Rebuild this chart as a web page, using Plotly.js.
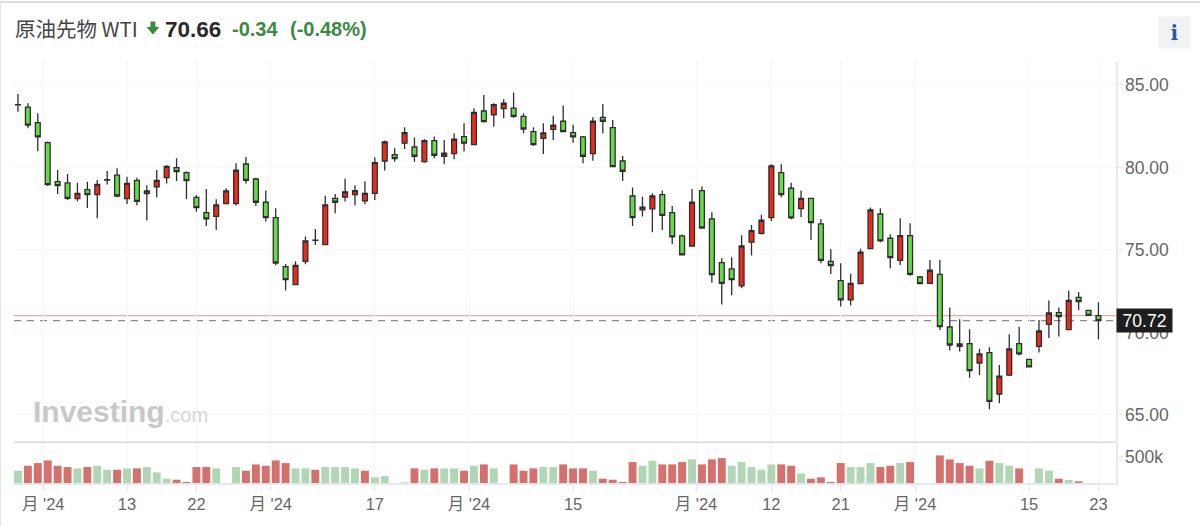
<!DOCTYPE html>
<html><head><meta charset="utf-8">
<script src="https://cdn.plot.ly/plotly-3.0.1.min.js"></script>
<style>
html,body{margin:0;padding:0;background:#fff;overflow:hidden}
#chart{position:absolute;left:0;top:0;width:1200px;height:526px}
#frame{position:absolute;left:0;top:1px;width:1199px;height:524px;border-top:2px solid #dcdcdc;border-left:1px solid #e4e4e4;pointer-events:none}
</style></head><body>
<div id="chart"></div><div id="frame"></div>
<script>
const opens=[83.81,83.65,82.72,81.50,79.14,79.06,78.11,78.66,78.35,79.26,79.53,78.11,79.22,78.41,78.82,79.38,79.99,79.69,78.19,77.26,77.04,77.81,77.81,80.21,79.30,77.89,76.96,73.99,72.90,74.31,75.58,75.32,78.13,78.21,78.35,77.97,78.43,80.39,80.78,81.47,81.24,80.35,81.63,80.68,80.84,81.87,81.38,83.42,83.18,83.57,83.59,83.10,82.17,81.77,82.31,82.80,82.11,81.85,80.84,83.04,82.41,80.39,78.27,77.43,77.49,78.35,77.26,75.85,75.24,78.60,76.88,74.23,73.85,72.82,75.47,76.01,76.96,79.69,78.74,77.50,78.13,76.58,74.31,73.14,71.97,72.96,75.08,77.18,75.71,74.37,75.87,73.36,72.98,73.52,70.33,69.30,69.32,68.15,68.78,66.27,67.42,69.32,68.37,69.16,70.49,71.20,70.17,72.13,71.34,71.02];
const closes=[83.79,82.56,81.85,78.96,78.90,78.13,78.43,78.35,78.98,79.24,78.27,79.04,77.95,78.58,79.22,80.07,79.75,79.20,77.56,76.88,77.73,78.58,79.83,79.22,77.89,76.96,74.21,73.20,74.07,75.55,75.60,77.73,77.89,78.52,78.60,78.43,80.29,81.55,80.54,82.11,80.68,81.63,80.74,80.86,81.71,81.47,83.34,82.78,83.81,83.89,83.10,82.33,81.38,82.09,82.56,82.17,81.85,80.68,82.80,82.80,80.05,79.77,76.96,77.59,78.27,77.10,75.79,74.70,77.89,76.33,73.50,72.98,73.20,75.24,76.17,76.80,80.09,78.35,76.94,78.13,76.66,74.37,74.05,71.97,72.98,74.86,77.42,75.55,74.53,75.87,73.52,72.96,73.77,70.35,69.24,69.16,67.69,68.70,65.83,67.36,69.00,68.70,67.91,70.09,71.18,70.96,71.95,71.87,71.04,70.72];
const highs=[84.45,83.89,83.28,81.57,79.85,79.60,79.08,79.14,79.24,79.79,79.95,79.44,79.38,78.92,79.85,80.15,80.55,79.75,78.33,78.70,78.07,78.74,80.25,80.64,79.38,78.60,77.53,74.15,74.31,75.81,76.27,78.29,78.39,79.32,78.92,79.16,80.62,81.63,81.16,82.43,81.81,81.71,81.87,81.67,82.05,82.68,83.59,84.39,83.89,84.13,84.54,83.28,82.43,82.68,83.14,83.75,82.58,81.91,83.04,83.85,82.88,80.70,78.78,78.23,78.43,78.60,77.67,75.93,78.70,78.84,77.28,74.49,74.56,75.89,76.51,77.14,80.19,80.19,79.08,78.60,78.13,76.88,75.04,74.19,73.54,75.08,77.58,77.52,75.95,76.92,76.62,73.42,74.39,74.39,71.52,70.80,70.19,69.02,69.10,68.03,69.89,70.35,68.41,70.76,71.93,71.52,72.53,72.45,71.36,71.83];
const lows=[83.38,82.37,80.98,78.88,78.39,78.03,77.93,77.55,76.92,78.96,78.19,77.79,77.71,76.78,78.20,79.02,79.18,78.09,77.32,76.45,76.21,77.79,77.70,79.02,77.67,76.72,74.07,72.55,72.88,74.13,75.30,75.30,77.22,77.93,77.71,77.79,78.03,79.81,80.35,81.12,80.35,80.29,80.56,80.19,80.50,80.96,81.36,82.72,82.47,82.98,83.00,82.07,81.30,80.82,81.67,82.15,81.50,80.25,80.41,82.07,80.05,79.18,76.45,77.02,76.07,76.21,75.36,74.68,75.20,76.31,73.02,71.69,72.25,72.68,74.66,75.93,76.76,78.19,76.86,77.00,75.61,74.19,73.55,71.57,71.63,72.92,75.04,75.46,73.89,74.09,73.44,72.94,72.94,70.15,68.90,68.84,67.26,67.42,65.34,65.71,67.36,68.60,67.89,68.78,69.67,69.75,70.15,71.36,71.00,69.59];
const volumes=[231,325,375,425,325,300,275,300,325,250,250,275,275,300,200,81,62,19,300,300,275,null,300,231,350,325,425,375,275,275,250,300,300,300,275,231,106,131,null,12,275,250,275,275,275,231,325,350,275,null,350,231,275,300,300,350,275,275,231,81,62,19,394,325,419,350,350,394,444,350,444,469,325,394,300,250,350,350,325,181,81,106,19,375,300,300,375,300,325,375,394,null,null,519,444,375,325,275,419,375,325,275,null,275,231,81,56,31,null,null];
const volumeRed=[0,1,1,1,1,1,0,1,0,0,1,0,1,0,0,0,1,1,1,1,0,0,0,1,1,1,1,1,0,0,1,0,0,0,0,1,0,0,0,0,1,0,1,0,0,1,0,1,0,0,1,1,1,0,0,1,1,1,0,1,1,1,1,0,0,1,1,1,0,1,1,1,0,0,0,0,0,1,1,0,1,1,1,1,0,0,0,1,1,0,1,0,0,1,1,1,1,0,1,0,0,1,0,0,0,1,0,1,0,0];
const xTickValues=[2.55,11,18,25.5,36,45.5,56,68.4,76,83,90.5,102,109];
const xTickLabels=["月 '24","13","22","月 '24","17","月 '24","15","月 '24","12","21","月 '24","15","23"];
const priceTicks=[65,70,75,80,85];
const priceTickLabels=["65.00","70.00","75.00","80.00","85.00"];
const lastPrice=70.72, prevClose=71.02;
const titleName="原油先物 WTI", quote="70.66", change="-0.34", changePct="(-0.48%)";

const days=opens.map((_,i)=>i);
const L=14,R=1116.5,T=62,B=483.5;
const px=x=>(x-L)/(R-L), py=y=>(B-y)/(B-T);
const sans='"Liberation Sans", Arial, sans-serif';
const note=(x,y,text,size,color,extra)=>Object.assign({xref:'paper',yref:'paper',x:px(x),y:py(y),text,showarrow:false,xanchor:'left',yanchor:'middle',font:{family:sans,size,color},borderpad:0},extra||{});
const arrowIcon=[[150.5,21.5],[155.5,21.5],[155.5,27],[159.5,27],[153,34.5],[146.5,27],[150.5,27]].map((p,i)=>(i?'L':'M')+px(p[0])+','+py(p[1])).join(' ')+' Z';

const candle={type:'candlestick',x:days,open:opens,high:highs,low:lows,close:closes,xaxis:'x',yaxis:'y',width:0.56,whiskerwidth:0,hoverinfo:'skip',
 increasing:{line:{color:'#2e2e2e',width:1.3},fillcolor:'#ec2a1c'},
 decreasing:{line:{color:'#2e2e2e',width:1.3},fillcolor:'#63dc47'}};
const vol={type:'bar',x:days,y:volumes,xaxis:'x',yaxis:'y2',width:0.8,hoverinfo:'skip',
 marker:{color:volumeRed.map(r=>r?'#d4716c':'#b0d6b6'),line:{width:0}}};

const layout={width:1200,height:526,showlegend:false,paper_bgcolor:'#fff',plot_bgcolor:'#fff',
 margin:{l:L,r:1200-R,t:T,b:526-B,pad:0},dragmode:false,
 xaxis:{type:'linear',domain:[0,1],range:[-0.4,110.77],anchor:'y2',tickmode:'array',tickvals:xTickValues,ticktext:xTickLabels,
  showgrid:true,gridcolor:'#f6f7f9',gridwidth:1,zeroline:false,ticks:'outside',ticklen:6,tickcolor:'#e6e8ef',showline:true,linecolor:'#e6e8ef',linewidth:1.5,
  tickfont:{family:'"Liberation Sans","Noto Sans CJK JP",sans-serif',size:16.5,color:'#666'},rangeslider:{visible:false}},
 yaxis:{domain:[0.0973,1],range:[63.36,86.39],side:'right',anchor:'x',tickmode:'array',tickvals:priceTicks,ticktext:priceTickLabels,
  showgrid:true,gridcolor:'#f6f7f9',zeroline:false,ticks:'outside',ticklen:4,tickcolor:'#e6e8ef',showline:true,linecolor:'#e6e8ef',linewidth:1.5,
  tickfont:{family:sans,size:17.5,color:'#666'}},
 yaxis2:{domain:[0,0.0949],range:[0,752],side:'right',anchor:'x',tickmode:'array',tickvals:[500],ticktext:['500k'],
  showgrid:false,zeroline:false,ticks:'outside',ticklen:4,tickcolor:'#e6e8ef',showline:true,linecolor:'#e6e8ef',linewidth:1.5,
  tickfont:{family:sans,size:17.5,color:'#666'}},
 shapes:[
  {type:'line',xref:'paper',yref:'paper',x0:0,x1:1,y0:py(442.7),y1:py(442.7),line:{color:'#d9d9d9',width:1.6},layer:'above'},
  {type:'line',xref:'paper',yref:'y',x0:0,x1:1,y0:prevClose,y1:prevClose,line:{color:'#f2a9a2',width:1.2},layer:'below'},
  {type:'line',xref:'paper',yref:'y',x0:0,x1:1,y0:lastPrice,y1:lastPrice,line:{color:'#8a8a8a',width:1.3,dash:'7px,6px'},layer:'below'},
  {type:'path',xref:'paper',yref:'paper',path:arrowIcon,fillcolor:'#3c8a42',line:{width:0},layer:'above'}
 ],
 annotations:[
  note(32,412,"<b>Investing</b><span style='color:#d6d6d6;font-size:20px'>.com</span>",30,'#c8c8c8'),
  {xref:'paper',yref:'y',x:1,y:lastPrice,text:String(lastPrice.toFixed(2)),showarrow:false,xanchor:'left',yanchor:'middle',width:55,height:23,bgcolor:'#1e1e1e',font:{family:sans,size:17.5,color:'#fff'},borderpad:0,align:'center'},
  note(14,28,titleName,20.5,'#444',{font:{family:'"Noto Sans CJK JP","Liberation Sans",sans-serif',size:20.5,color:'#444'}}),
  note(164.5,29.5,"<b>"+quote+"</b>",22.5,'#2a2a2a'),
  note(231,29,"<b>"+change+"</b>",20,'#3c8a42'),
  note(289,29,"<b>"+changePct+"</b>",20,'#3c8a42'),
  {xref:'paper',yref:'paper',x:px(1175.5),y:py(32.5),text:"<b>i</b>",showarrow:false,xanchor:'center',yanchor:'middle',width:31,height:31,bgcolor:'#f0f2f4',borderpad:0,font:{family:'"DejaVu Serif",serif',size:20,color:'#2a5aa6'},align:'center'}
 ]};
Plotly.newPlot('chart',[vol,candle],layout,{displayModeBar:false,staticPlot:true});
</script></body></html>
